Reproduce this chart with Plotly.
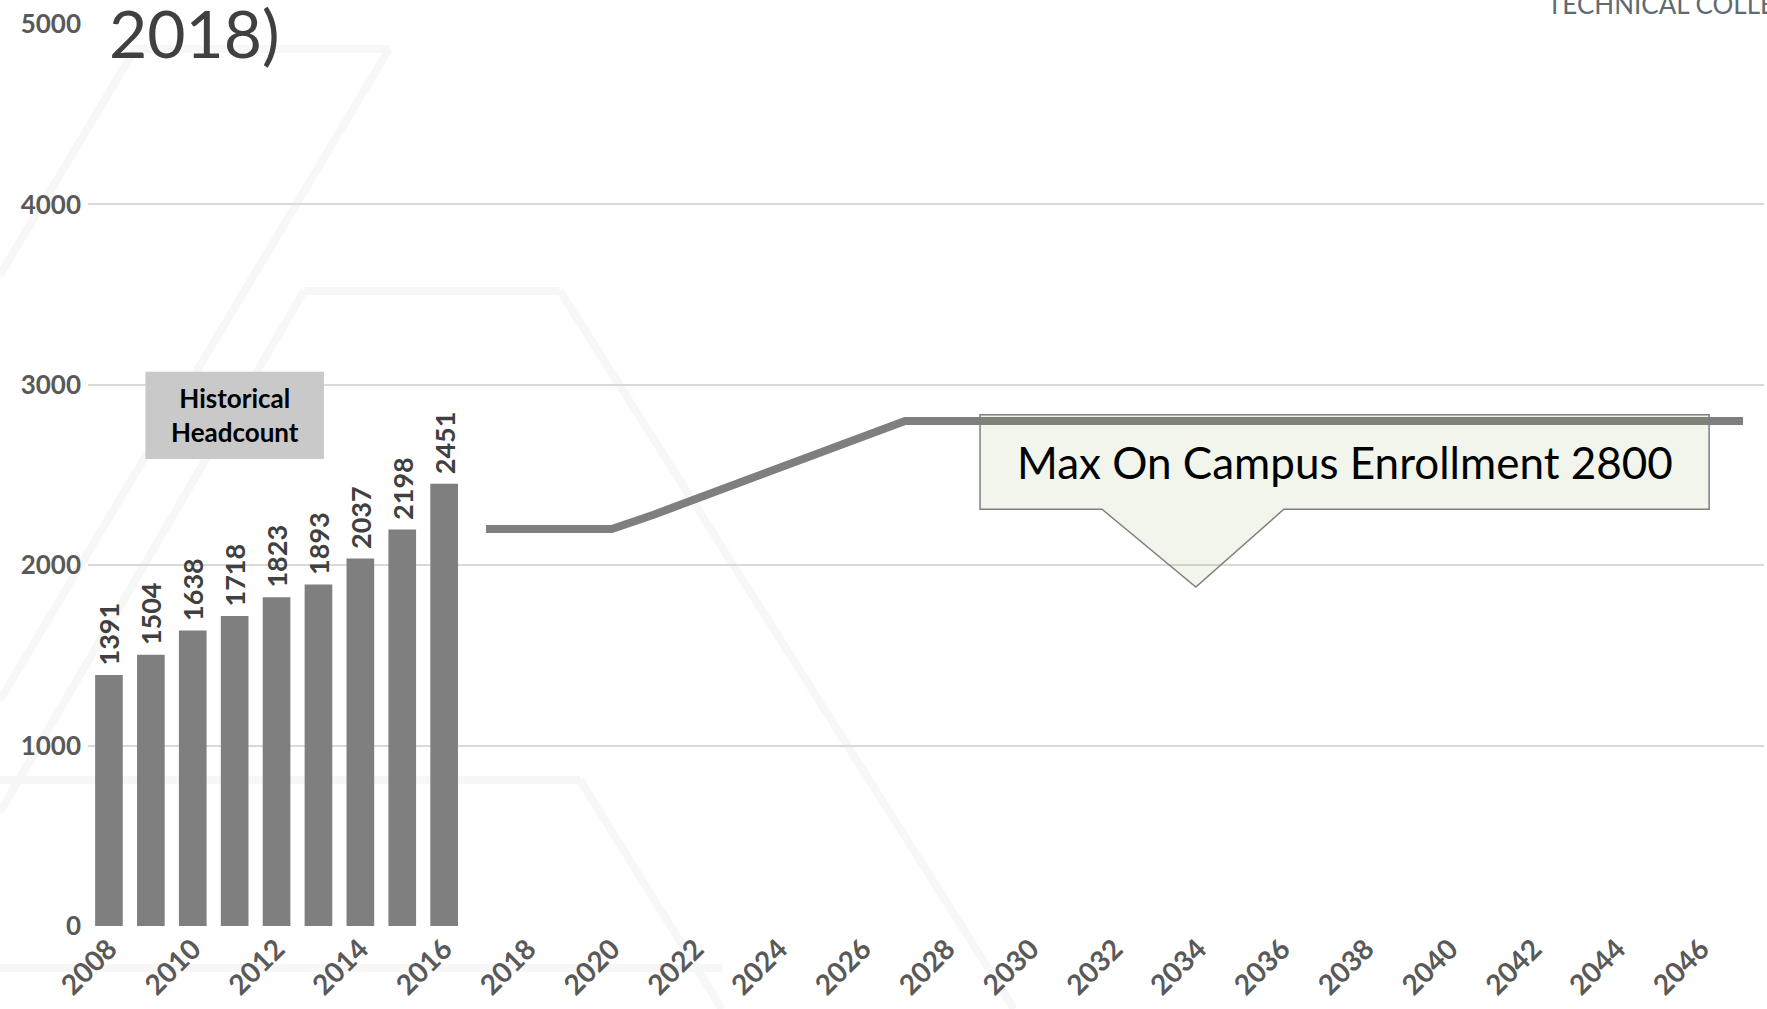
import plotly.graph_objects as go

# data
hist_years = [2008, 2009, 2010, 2011, 2012, 2013, 2014, 2015, 2016]
hist_headcount = [1391, 1504, 1638, 1718, 1823, 1893, 2037, 2198, 2451]

proj_years = list(range(2017, 2048))
proj_enrollment = [2200, 2200, 2200, 2200, 2280, 2365, 2450, 2535, 2620, 2710, 2800] + [2800] * 20

tick_years = list(range(2008, 2047, 2))
max_cap = 2800

W, H = 1767, 1009
ML, MR, MT, MB = 88, 3, 24, 83
PW, PH = W - ML - MR, H - MT - MB

FONT = "Lato"
GRAY = "#7f7f7f"


def px(x, y):
    # page pixels -> paper coords
    return (x - ML) / PW, (H - MB - y) / PH


fig = go.Figure()

fig.add_trace(go.Bar(
    x=hist_years, y=hist_headcount, width=0.66,
    marker=dict(color=GRAY, line=dict(width=0)),
    text=["\u00a0" + str(v) for v in hist_headcount], textposition="outside", textangle=-90,
    constraintext="none", cliponaxis=False,
    textfont=dict(family=FONT, size=27, color="#404040", weight="bold"),
    showlegend=False, hoverinfo="x+y",
))

fig.add_trace(go.Scatter(
    x=proj_years, y=proj_enrollment, mode="lines",
    line=dict(color=GRAY, width=8), showlegend=False,
))

shapes = []
# faint slide watermark (chevron outlines)
wm = [
    [(135, 49), (389, 49)],
    [(389, 49), (0, 700)],
    [(135, 49), (0, 275)],
    [(304, 291), (560, 291)],
    [(304, 291), (0, 812)],
    [(560, 291), (1014, 1009)],
    [(0, 780), (580, 780)],
    [(580, 780), (722, 1009)],
    [(0, 968), (722, 968)],
]
for (a, b) in wm:
    x0, y0 = px(*a)
    x1, y1 = px(*b)
    shapes.append(dict(type="line", xref="paper", yref="paper", x0=x0, y0=y0, x1=x1, y1=y1,
                       line=dict(color="#f7f7f7", width=8), layer="below"))

# "Historical Headcount" label box
shapes.append(dict(type="rect", xref="x", yref="y", x0=2008.87, x1=2013.13, y0=2588, y1=3072,
                   fillcolor="#c9c9c9", line=dict(width=0), layer="above"))

# callout for the enrollment cap
bx0, bx1, bt, bb = 2028.79, 2046.19, max_cap + 34, 2310
p0, p1, tip_x, tip_y = 2031.70, 2036.04, 2033.94, 1879
path = (f"M {bx0},{bt} L {bx1},{bt} L {bx1},{bb} L {p1},{bb} L {tip_x},{tip_y} "
        f"L {p0},{bb} L {bx0},{bb} Z")
shapes.append(dict(type="path", xref="x", yref="y", path=path,
                   fillcolor="rgba(127,157,69,0.1)", line=dict(color="#7f7f7f", width=1.5),
                   layer="above"))

annotations = [
    dict(x=2011, y=2830, xref="x", yref="y", text="Historical<br>Headcount", showarrow=False,
         font=dict(family=FONT, size=26, color="#000000", weight="bold"), align="center"),
    dict(x=(bx0 + bx1) / 2, y=(bt + bb) / 2, xref="x", yref="y",
         text="Max On Campus Enrollment 2800", showarrow=False,
         font=dict(family=FONT, size=44, color="#000000")),
]
ax, ay = px(107, 32)
annotations.append(dict(x=ax, y=ay, xref="paper", yref="paper", text="2018)", showarrow=False,
                        xanchor="left", yanchor="middle",
                        font=dict(family=FONT, size=66, color="#404040")))
tx, ty = px(1545, 4)
annotations.append(dict(x=tx, y=ty, xref="paper", yref="paper", text="TECHNICAL COLLEGE",
                        showarrow=False, xanchor="left", yanchor="middle",
                        font=dict(family=FONT, size=26, color="#606a70")))

fig.update_layout(
    width=W, height=H,
    margin=dict(l=ML, r=MR, t=MT, b=MB, pad=0),
    paper_bgcolor="white", plot_bgcolor="rgba(0,0,0,0)",
    shapes=shapes, annotations=annotations,
    xaxis=dict(range=[2007.5, 2047.5], tickvals=tick_years, tickangle=-45,
               showgrid=False, zeroline=False, showline=False, ticks="",
               tickfont=dict(family=FONT, size=28, color="#595959", weight="bold")),
    yaxis=dict(range=[0, 5000], dtick=1000, showgrid=True, gridcolor="#d9d9d9", gridwidth=1.5,
               zeroline=False, showline=False, ticks="", ticklabelstandoff=6,
               tickfont=dict(family=FONT, size=26, color="#595959", weight="bold")),
)

fig.write_html("out.html", config={"displayModeBar": False},
               post_script="document.body.style.margin='0';")
